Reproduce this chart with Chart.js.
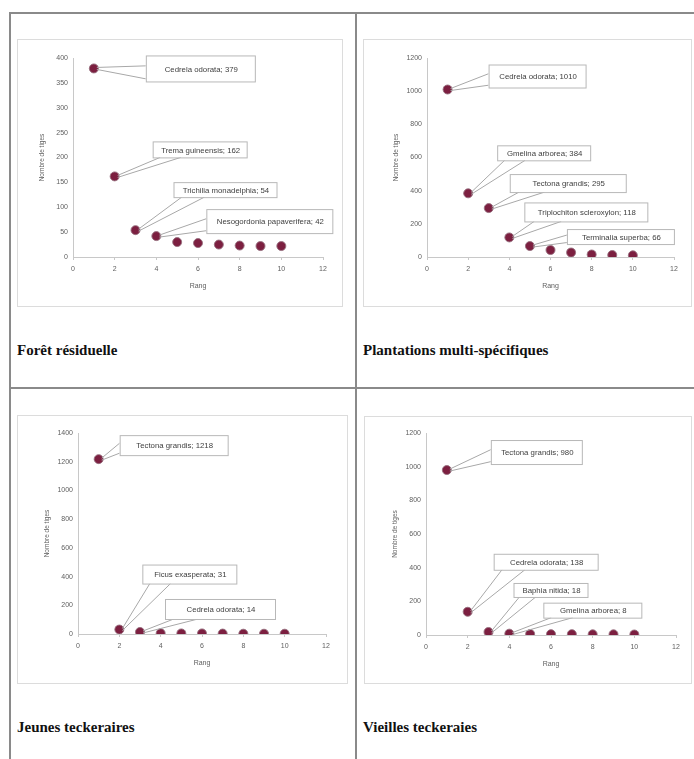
<!DOCTYPE html>
<html><head><meta charset="utf-8">
<script src="https://cdn.jsdelivr.net/npm/chart.js@4.4.1/dist/chart.umd.min.js"></script>
<style>
html,body{margin:0;padding:0;background:#fff;}
body{width:694px;height:759px;position:relative;overflow:hidden;}
.rule{position:absolute;background:#8a8a8a;}
.frame{position:absolute;border:1px solid #dcdcdc;box-sizing:border-box;background:#fff;}
.frame canvas{position:absolute;left:0;top:0;}
.ttl{position:absolute;font-family:"Liberation Serif","Times New Roman",serif;font-weight:bold;font-size:15px;color:#111;white-space:nowrap;line-height:18px;}
</style>
</head><body>
<script>
// ---------- DATA ----------
const ranks = [1, 2, 3, 4, 5, 6, 7, 8, 9, 10];
const xTickLabels = [0, 2, 4, 6, 8, 10, 12];

const foretValues = [379, 162, 54, 42, 30, 28, 25, 23, 22, 22];
const foretSpecies = ['Cedrela odorata', 'Trema guineensis', 'Trichilia monadelphia', 'Nesogordonia papaverifera'];

const plantValues = [1010, 384, 295, 118, 66, 42, 27, 15, 12, 10];
const plantSpecies = ['Cedrela odorata', 'Gmelina arborea', 'Tectona grandis', 'Triplochiton scleroxylon', 'Terminalia superba'];

const jeunesValues = [1218, 31, 14, 5, 4, 4, 3, 2, 2, 2];
const jeunesSpecies = ['Tectona grandis', 'Ficus exasperata', 'Cedrela odorata'];

const vieillesValues = [980, 138, 18, 8, 6, 5, 5, 4, 4, 3];
const vieillesSpecies = ['Tectona grandis', 'Cedrela odorata', 'Baphia nitida', 'Gmelina arborea'];

const panelTitles = ['Forêt résiduelle', 'Plantations multi-spécifiques', 'Jeunes teckeraires', 'Vieilles teckeraies'];
const yMaxes = [400, 1200, 1400, 1200];
const ySteps = [50, 200, 200, 200];
const xAxisTitle = 'Rang';
const yAxisTitle = 'Nombre de tiges';

// ---------- LAYOUT ----------
const rules = [
  {l: 9, t: 12, w: 685, h: 2},
  {l: 9, t: 12, w: 2, h: 747},
  {l: 355, t: 12, w: 2, h: 747},
  {l: 9, t: 387, w: 685, h: 2}
];
const frames = [
  {l: 17, t: 39, w: 326, h: 268, plot: {l: 72, r: 322, t: 57, b: 256}, title: {l: 17, t: 341}},
  {l: 363, t: 39, w: 329, h: 268, plot: {l: 426, r: 673, t: 57, b: 256}, title: {l: 363, t: 341}},
  {l: 17, t: 415, w: 331, h: 269, plot: {l: 77, r: 325, t: 432, b: 633}, title: {l: 17, t: 718}},
  {l: 364, t: 416, w: 328, h: 268, plot: {l: 425, r: 675, t: 432, b: 634}, title: {l: 363, t: 718}}
];
// callout boxes: offset of the box (left/top) from its point, size, side the leader joins
const calloutLayouts = [
  [{dx: 52, dy: -13, w: 109, h: 26, side: 'left'}, {dx: 38, dy: -35, w: 94, h: 16, side: 'bottom'},
   {dx: 38, dy: -48, w: 103, h: 15, side: 'bottom'}, {dx: 50, dy: -27, w: 126, h: 24, side: 'left'}],
  [{dx: 41, dy: -25, w: 97, h: 23, side: 'left'}, {dx: 29, dy: -48, w: 93, h: 15, side: 'bottom'},
   {dx: 21, dy: -34, w: 116, h: 18, side: 'bottom'}, {dx: 15, dy: -35, w: 123, h: 19, side: 'bottom'},
   {dx: 37, dy: -17, w: 107, h: 15, side: 'left'}],
  [{dx: 21, dy: -24, w: 108, h: 20, side: 'left'}, {dx: 23, dy: -65, w: 94, h: 19, side: 'bottom'},
   {dx: 25, dy: -33, w: 110, h: 20, side: 'bottom'}],
  [{dx: 44, dy: -30, w: 91, h: 24, side: 'left'}, {dx: 26, dy: -58, w: 104, h: 16, side: 'bottom'},
   {dx: 25, dy: -49, w: 74, h: 14, side: 'bottom'}, {dx: 34, dy: -31, w: 98, h: 15, side: 'bottom'}]
];
const Y_AXIS_W = 35, X_AXIS_H = 33;

rules.forEach(r => {
  const d = document.createElement('div');
  d.className = 'rule';
  Object.assign(d.style, {left: r.l + 'px', top: r.t + 'px', width: r.w + 'px', height: r.h + 'px'});
  document.body.appendChild(d);
});

const calloutPlugin = {
  id: 'callouts',
  afterDatasetsDraw(chart, args, opts) {
    const ctx = chart.ctx;
    const meta = chart.getDatasetMeta(0);
    (opts.items || []).forEach((it, i) => {
      const pt = meta.data[i];
      if (!pt) return;
      const px = pt.x, py = pt.y;
      const lay = it.layout;
      const bx = px + lay.dx, by = py + lay.dy;
      let a, b;
      if (lay.side === 'left') {
        a = [bx, by + lay.h * 0.4];
        b = [bx, by + lay.h * 0.9];
      } else {
        a = [bx + lay.w * 0.08, by + lay.h];
        b = [bx + lay.w * 0.3, by + lay.h];
      }
      ctx.save();
      ctx.strokeStyle = '#a8a8a8';
      ctx.lineWidth = 1;
      ctx.fillStyle = '#ffffff';
      ctx.beginPath();
      ctx.moveTo(px + 3, py - 1);
      ctx.lineTo(a[0], a[1]);
      ctx.moveTo(px + 3, py + 1);
      ctx.lineTo(b[0], b[1]);
      ctx.stroke();
      ctx.fillRect(bx, by, lay.w, lay.h);
      ctx.strokeStyle = '#b8b8b8';
      ctx.strokeRect(bx + 0.5, by + 0.5, lay.w, lay.h);
      ctx.fillStyle = '#404040';
      ctx.font = '7.8px "Liberation Sans", Arial, sans-serif';
      ctx.textAlign = 'center';
      ctx.textBaseline = 'middle';
      ctx.fillText(it.text, bx + lay.w / 2 + 1, by + lay.h / 2 + 1);
      ctx.restore();
    });
  }
};

function makePanel(idx, values, species) {
  const f = frames[idx];
  const div = document.createElement('div');
  div.className = 'frame';
  Object.assign(div.style, {left: f.l + 'px', top: f.t + 'px', width: f.w + 'px', height: f.h + 'px'});
  const cv = document.createElement('canvas');
  cv.width = f.w; cv.height = f.h;
  cv.style.width = f.w + 'px'; cv.style.height = f.h + 'px';
  div.appendChild(cv);
  document.body.appendChild(div);

  const t = document.createElement('div');
  t.className = 'ttl';
  t.textContent = panelTitles[idx];
  Object.assign(t.style, {left: f.title.l + 'px', top: f.title.t + 'px'});
  document.body.appendChild(t);

  const pad = {
    left: f.plot.l - f.l - Y_AXIS_W,
    right: f.l + f.w - f.plot.r,
    top: f.plot.t - f.t,
    bottom: f.t + f.h - f.plot.b - X_AXIS_H
  };
  const items = species.map((s, i) => ({text: s + '; ' + values[i], layout: calloutLayouts[idx][i]}));
  const tickFont = {family: '"Liberation Sans", Arial, sans-serif', size: 7};
  const axisCol = '#c8c8c8';

  new Chart(cv, {
    type: 'scatter',
    data: {
      datasets: [{
        data: ranks.map((r, i) => ({x: r, y: values[i]})),
        backgroundColor: '#7c1f40',
        borderColor: 'rgba(150,110,125,0.9)',
        borderWidth: 1,
        pointRadius: 4.5,
        pointHoverRadius: 4.5
      }]
    },
    options: {
      responsive: false,
      animation: false,
      devicePixelRatio: 1,
      layout: {padding: pad},
      plugins: {legend: {display: false}, tooltip: {enabled: false}, callouts: {items}},
      scales: {
        x: {
          type: 'linear', min: 0, max: 12,
          afterBuildTicks: s => { s.ticks = xTickLabels.map(v => ({value: v})); },
          afterFit: s => { s.height = X_AXIS_H; },
          ticks: {font: tickFont, color: '#606060', padding: 5, maxRotation: 0},
          grid: {drawOnChartArea: false, drawTicks: true, tickLength: 3, color: axisCol},
          border: {color: axisCol, width: 1},
          title: {display: true, text: xAxisTitle, font: tickFont, color: '#606060', padding: {top: 2, bottom: 0}}
        },
        y: {
          min: 0, max: yMaxes[idx],
          afterFit: s => { s.width = Y_AXIS_W; },
          ticks: {stepSize: ySteps[idx], font: tickFont, color: '#606060', padding: 5,
                  callback: v => String(v)},
          grid: {drawOnChartArea: false, drawTicks: false, color: axisCol},
          border: {color: axisCol, width: 1},
          title: {display: true, text: yAxisTitle, font: {family: '"Liberation Sans", Arial, sans-serif', size: 6.5}, color: '#606060', padding: {top: 0, bottom: 4}}
        }
      }
    },
    plugins: [calloutPlugin]
  });
}

makePanel(0, foretValues, foretSpecies);
makePanel(1, plantValues, plantSpecies);
makePanel(2, jeunesValues, jeunesSpecies);
makePanel(3, vieillesValues, vieillesSpecies);
</script>
</body></html>
